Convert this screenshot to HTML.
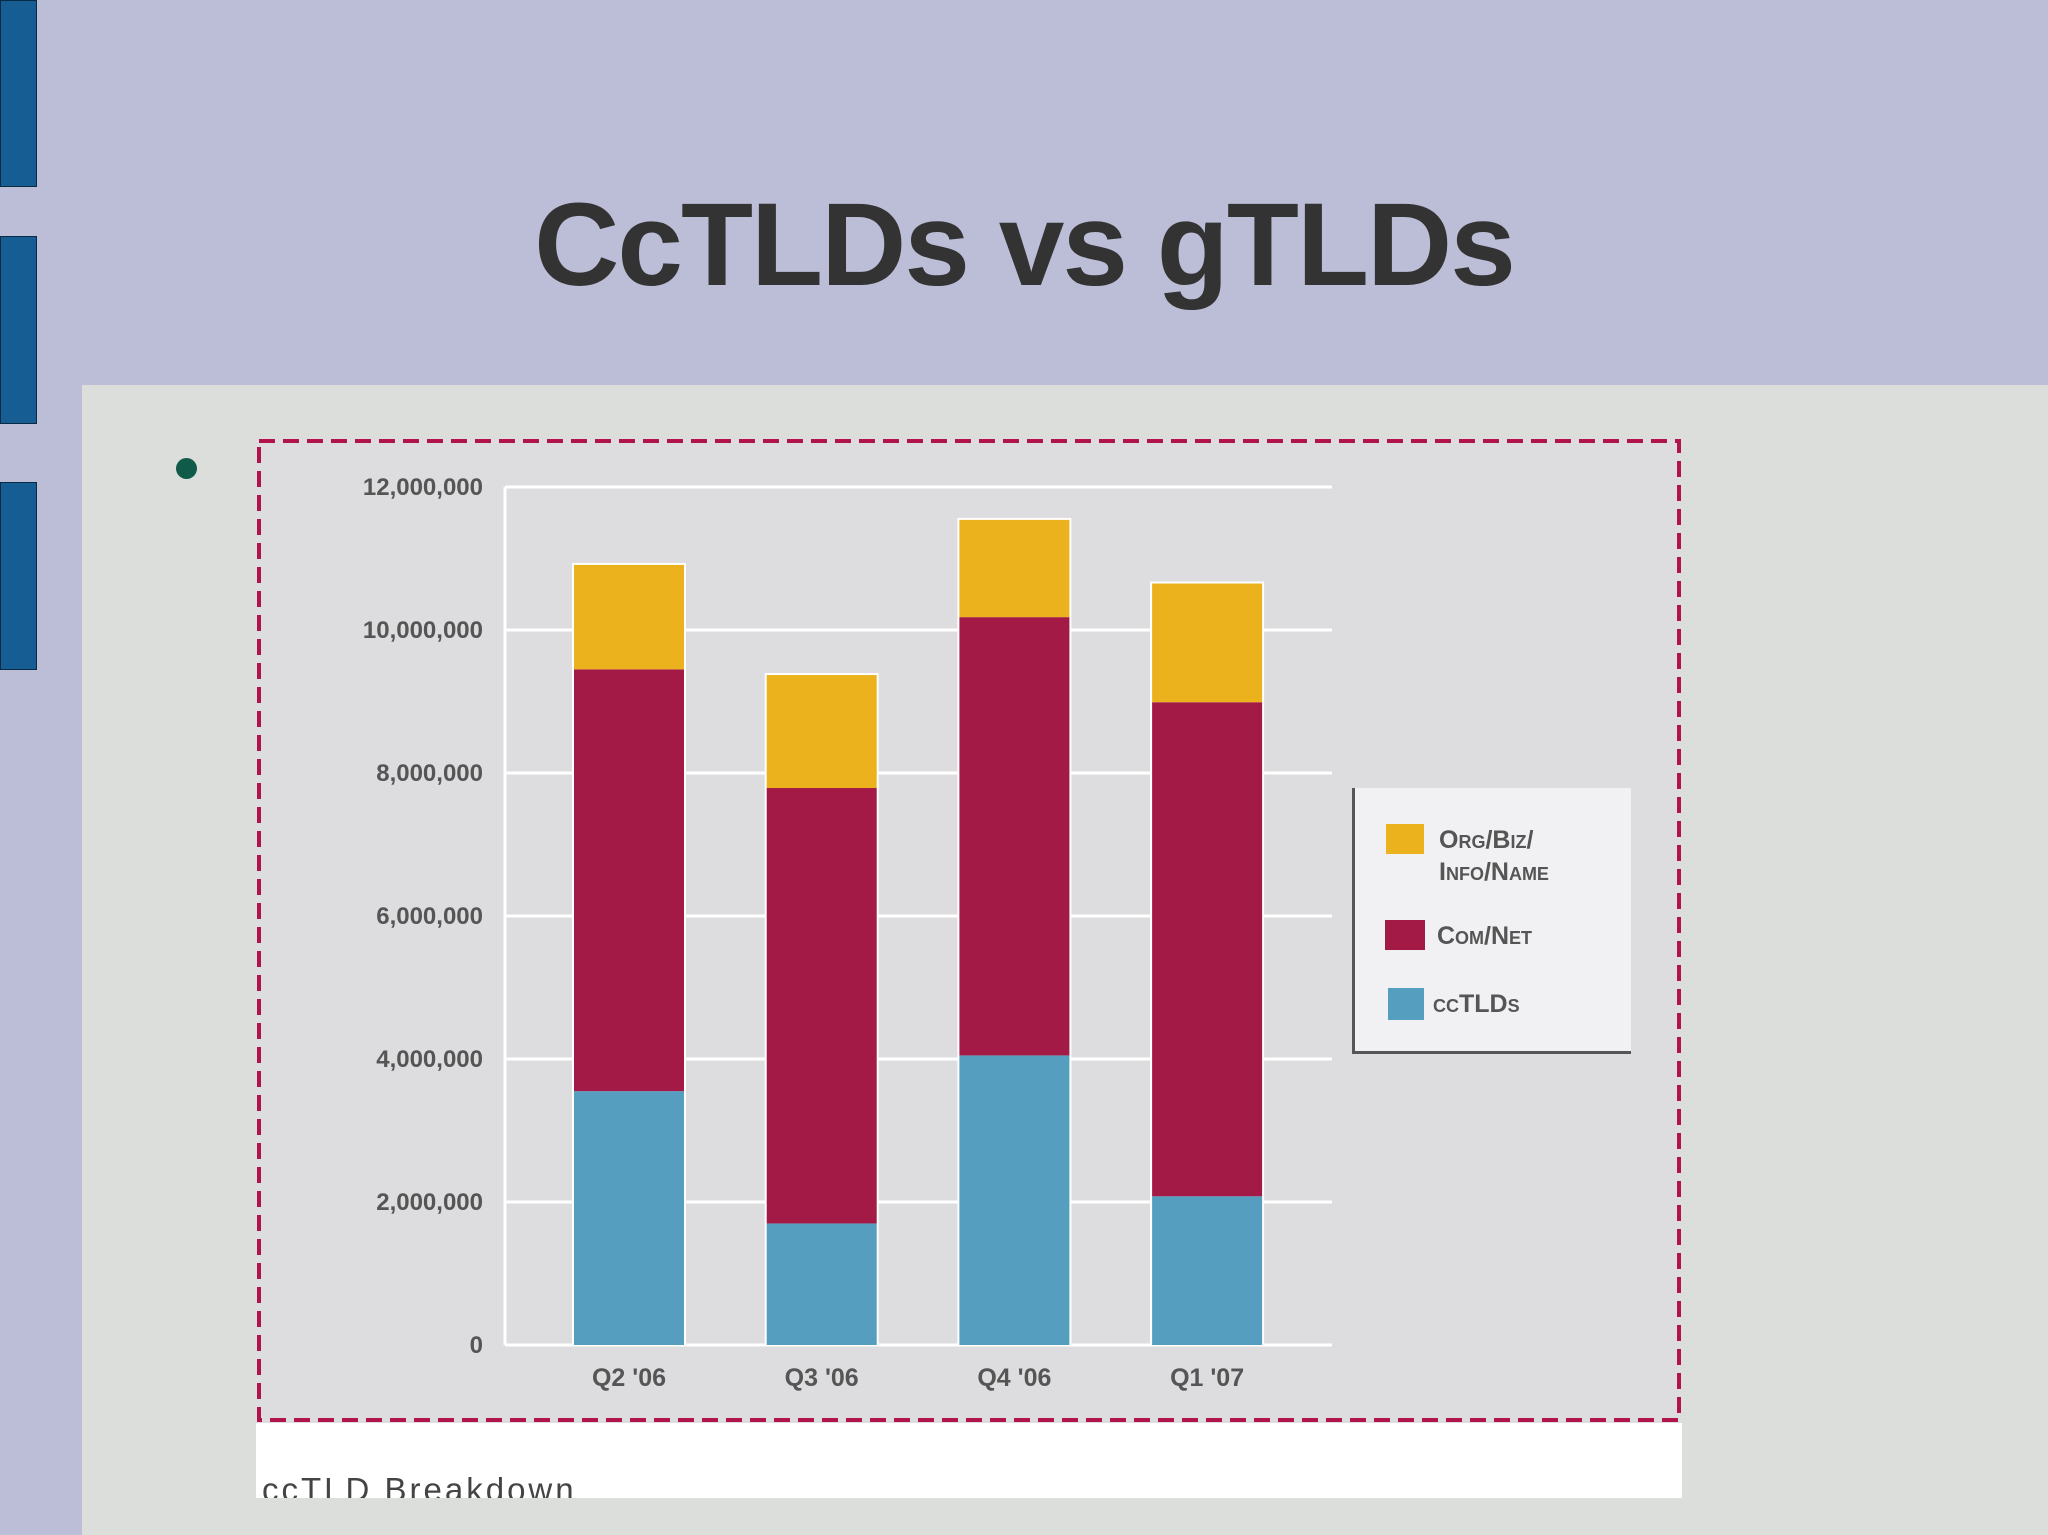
<!DOCTYPE html>
<html><head><meta charset="utf-8"><style>
html,body{margin:0;padding:0;width:2048px;height:1535px;overflow:hidden;background:#bcbdd7;font-family:"Liberation Sans",sans-serif}
.abs{position:absolute}
</style></head><body>
<div class="abs" style="left:0;top:0;width:37px;height:187px;background:#155d93;border:1px solid #0a2a44;box-sizing:border-box"></div>
<div class="abs" style="left:0;top:236px;width:37px;height:188px;background:#155d93;border:1px solid #0a2a44;box-sizing:border-box"></div>
<div class="abs" style="left:0;top:482px;width:37px;height:188px;background:#155d93;border:1px solid #0a2a44;box-sizing:border-box"></div>
<div class="abs" style="left:0;width:2048px;top:175px;text-align:center;font-size:118px;font-weight:bold;color:#333;line-height:140px;letter-spacing:-2px">CcTLDs vs gTLDs</div>
<div class="abs" style="left:82px;top:385px;width:1966px;height:1150px;background:#dcdedb"></div>
<div class="abs" style="left:176px;top:458px;width:21px;height:21px;border-radius:50%;background:#105a4a"></div>
<div class="abs" style="left:256px;top:1421px;width:1426px;height:77px;background:#fff;overflow:hidden">
<div style="position:absolute;left:6px;top:50px;font-size:33px;letter-spacing:3px;color:#444">ccTLD Breakdown</div></div>
<svg class="abs" style="left:256px;top:438px" width="1426" height="985" id="chart">
<rect x="0" y="0" width="1426" height="985" fill="#dddcde"/>
<rect x="3" y="3" width="1420" height="979" fill="none" stroke="#b0144a" stroke-width="4" stroke-dasharray="16 8"/>
</svg>
<script>
const categories=["Q2 '06","Q3 '06","Q4 '06","Q1 '07"];
const ccTLDs=[3.55,1.70,4.05,2.08];
const comNet=[5.90,6.09,6.13,6.91];
const orgBiz=[1.46,1.58,1.36,1.66];
const yTicks=[0,2,4,6,8,10,12];
const yTickLabels=["0","2,000,000","4,000,000","6,000,000","8,000,000","10,000,000","12,000,000"];
const NS="http://www.w3.org/2000/svg";
const svg=document.getElementById('chart');
const ox=256,oy=438;
const y0=1345-oy,yTop=487-oy,yMax=12;
const xL=505-ox,xR=1332-ox;
const yS=v=>y0-(v/yMax)*(y0-yTop);
const step=192.7,bw=110,first=574-ox;
const xS=i=>first+i*step;
function mk(t,a){const e=document.createElementNS(NS,t);for(const k in a)e.setAttribute(k,a[k]);svg.appendChild(e);return e;}
yTicks.forEach((t,i)=>{
 const g=mk('line',{x1:xL,x2:xR,y1:yS(t),y2:yS(t),stroke:'#fff','stroke-width':3});
 
 
 const l=mk('text',{x:483-ox,y:yS(t)+8,'text-anchor':'end','font-size':24,'font-weight':'bold',fill:'#555','font-family':'Liberation Sans, sans-serif'});
 l.textContent=yTickLabels[i];
 
 
});
const ax=mk('line',{x1:xL,x2:xL,y1:yTop,y2:y0,stroke:'#fff','stroke-width':3});


const series=[[ccTLDs,'#559ebf','cctld'],[comNet,'#a31a47','comnet'],[orgBiz,'#ecb21e','org']];
categories.forEach((c,i)=>{
 let base=0;
 const tot=ccTLDs[i]+comNet[i]+orgBiz[i];
 mk('rect',{x:xS(i)-2,y:yS(tot)-2,width:bw+4,height:y0-yS(tot)+2,fill:'#fff'});
 series.forEach(s=>{
  const v=s[0][i];
  const r=mk('rect',{x:xS(i),y:yS(base+v),width:bw,height:yS(base)-yS(base+v),fill:s[1]});
  
  
  base+=v;
 });
 const t=mk('text',{x:xS(i)+bw/2,y:1386-oy,'text-anchor':'middle','font-size':25,'font-weight':'bold',fill:'#555','font-family':'Liberation Sans, sans-serif'});
 t.textContent=c;
 
 
});
</script>
<div class="abs" style="left:1352px;top:788px;width:279px;height:266px;background:#f1f0f3;border-left:3px solid #555;border-bottom:3px solid #555;box-sizing:border-box;font-size:25px;font-weight:bold;color:#555;font-variant:small-caps">
<div style="position:absolute;left:31px;top:36px;width:38px;height:30px;background:#ecb21e"></div>
<div style="position:absolute;left:84px;top:36px;line-height:32px">Org/Biz/<br>Info/Name</div>
<div style="position:absolute;left:30px;top:132px;width:40px;height:30px;background:#a31a47"></div>
<div style="position:absolute;left:82px;top:132px;line-height:32px">Com/Net</div>
<div style="position:absolute;left:33px;top:200px;width:36px;height:32px;background:#559ebf"></div>
<div style="position:absolute;left:78px;top:200px;line-height:32px">ccTLDs</div>
</div>
</body></html>
